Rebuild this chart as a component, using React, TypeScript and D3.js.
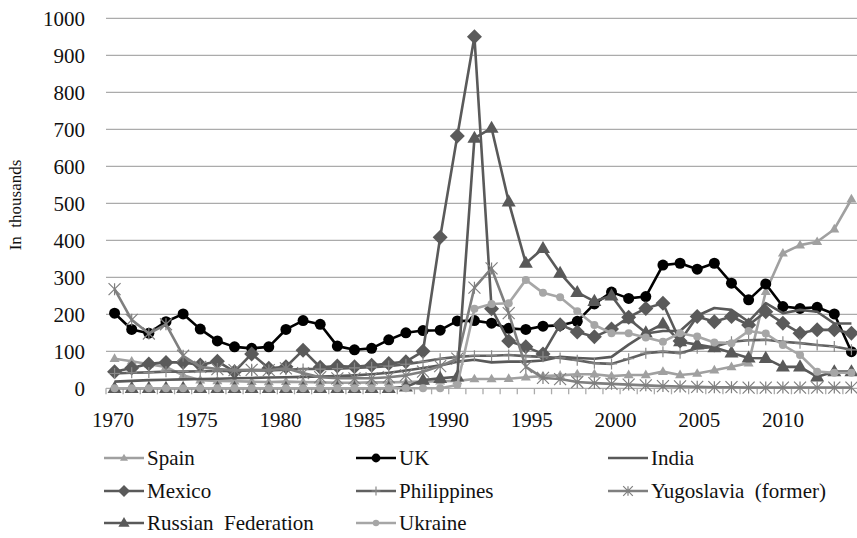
import React, { useRef, useEffect } from 'react';
import * as d3 from 'd3';

// data years (points) and the label axis years
const years = [
  1970, 1971, 1972, 1973, 1974, 1975, 1976, 1977, 1978, 1979,
  1980, 1981, 1982, 1983, 1984, 1985, 1986, 1987, 1988, 1989,
  1990, 1991, 1992, 1993, 1994, 1995, 1996, 1997, 1998, 1999,
  2000, 2001, 2002, 2003, 2004, 2005, 2006, 2007, 2008, 2009,
  2010, 2011, 2012, 2013
];
const labelYears = [...years, 2014];
const tickYears = [1970, 1975, 1980, 1985, 1990, 1995, 2000, 2005, 2010];
const yTicks = [0, 100, 200, 300, 400, 500, 600, 700, 800, 900, 1000];

const spain = [
  80, 73, 65, 58, 35, 22, 20, 19, 18, 17,
  18, 17, 16, 15, 15, 16, 16, 17, 18, 19,
  20, 25, 25, 26, 30, 33, 35, 38, 38, 33,
  36, 36, 45, 36, 40, 49, 58, 68, 261, 365,
  387, 396, 430, 511
];
const uk = [
  203, 159, 149, 180, 201, 160, 128, 112, 108, 112,
  159, 183, 173, 114, 104, 108, 131, 150, 156, 157,
  182, 183, 176, 162, 159, 168, 170, 181, 228, 260,
  243, 248, 333, 338, 322, 338, 284, 239, 282, 221,
  216, 219, 201, 99
];
const india = [
  18, 20, 22, 23, 24, 25, 26, 27, 28, 29,
  30, 31, 32, 33, 35, 38, 42, 48, 55, 62,
  72, 77, 70, 72, 72, 75, 85, 82, 80, 85,
  118, 148, 155, 155, 196, 217, 212, 180, 230, 203,
  212, 207, 175, 175
];
const mexico = [
  45, 55, 66, 70, 70, 63, 73, 45, 93, 54,
  58, 103, 57, 60, 58, 62, 67, 72, 100, 408,
  682, 950, 215, 128, 112, 93, 172, 152, 139, 160,
  192, 216, 230, 128, 194, 180, 194, 171, 207, 176,
  149, 158, 158, 149
];
const philippines = [
  40, 42, 43, 45, 45, 46, 47, 47, 48, 48,
  50, 52, 52, 53, 55, 57, 60, 65, 72, 80,
  85, 88, 88, 90, 87, 85, 82, 76, 68, 66,
  80, 95, 99, 95, 108, 112, 126, 130, 131, 126,
  122, 117, 113, 104
];
const yugoslavia = [
  268, 185, 148, 173, 88, 58, 52, 49, 50, 49,
  54, 41, 30, 27, 27, 27, 30, 35, 45, 60,
  80, 272, 324, 203, 58, 28, 25, 17, 14, 12,
  10, 8, 6, 5, 4, 3, 3, 2, 2, 2,
  2, 2, 2, 2
];
const russia = [
  0, 0, 0, 0, 0, 0, 0, 0, 0, 0,
  0, 0, 0, 0, 0, 0, 0, 4, 22, 27,
  31, 676, 703, 504, 338, 378, 311, 259, 235, 250,
  188, 150, 174, 126, 118, 110, 96, 82, 81, 58,
  58, 31, 45, 45
];
const ukraine = [
  0, 0, 0, 0, 0, 0, 0, 0, 0, 0,
  0, 0, 0, 0, 0, 0, 0, 0, 0, 0,
  9, 215, 228, 230, 293, 258, 246, 208, 171, 149,
  149, 137, 126, 149, 140, 124, 122, 155, 148, 117,
  90, 45, 42, 42
];

type Marker = 'triangle' | 'bigTriangle' | 'circle' | 'smallCircle' | 'diamond' | 'plus' | 'star' | 'none';

const series: { name: string; values: number[]; color: string; markerColor: string; marker: Marker }[] = [
  { name: 'Spain', values: spain, color: '#a0a0a0', markerColor: '#a0a0a0', marker: 'triangle' },
  { name: 'UK', values: uk, color: '#000000', markerColor: '#000000', marker: 'circle' },
  { name: 'India', values: india, color: '#595959', markerColor: '#595959', marker: 'none' },
  { name: 'Mexico', values: mexico, color: '#5a5a5a', markerColor: '#5a5a5a', marker: 'diamond' },
  { name: 'Philippines', values: philippines, color: '#606060', markerColor: '#8a8a8a', marker: 'plus' },
  { name: 'Yugoslavia  (former)', values: yugoslavia, color: '#7f7f7f', markerColor: '#7f7f7f', marker: 'star' },
  { name: 'Russian  Federation', values: russia, color: '#595959', markerColor: '#595959', marker: 'bigTriangle' },
  { name: 'Ukraine', values: ukraine, color: '#a6a6a6', markerColor: '#a6a6a6', marker: 'smallCircle' },
];

const FONT = 'Liberation Serif, DejaVu Serif, serif';

function drawMarker(g: d3.Selection<SVGGElement, unknown, null, undefined>, type: Marker, cx: number, cy: number, color: string, k = 1) {
  if (type === 'none') return;
  if (type === 'circle' || type === 'smallCircle') {
    g.append('circle').attr('cx', cx).attr('cy', cy)
      .attr('r', (type === 'circle' ? 5.5 : 4) * k).attr('fill', color);
  } else if (type === 'triangle' || type === 'bigTriangle') {
    const s = (type === 'triangle' ? 10 : 14) * k;
    const h = s * Math.sqrt(3) / 2;
    g.append('path')
      .attr('d', `M${cx},${cy - h * 0.62}L${cx + s / 2},${cy + h * 0.38}L${cx - s / 2},${cy + h * 0.38}Z`)
      .attr('fill', color);
  } else if (type === 'diamond') {
    const r = 7.5 * k;
    g.append('path')
      .attr('d', `M${cx},${cy - r}L${cx + r},${cy}L${cx},${cy + r}L${cx - r},${cy}Z`)
      .attr('fill', color);
  } else if (type === 'plus') {
    const r = 5.5 * k;
    g.append('path')
      .attr('d', `M${cx - r},${cy}H${cx + r}M${cx},${cy - r}V${cy + r}`)
      .attr('stroke', color).attr('stroke-width', 1.2).attr('fill', 'none');
  } else if (type === 'star') {
    const r = 6 * k;
    g.append('path')
      .attr('d', `M${cx - r},${cy - r}L${cx + r},${cy + r}M${cx - r},${cy + r}L${cx + r},${cy - r}M${cx},${cy - r}V${cy + r}`)
      .attr('stroke', color).attr('stroke-width', 1.2).attr('fill', 'none');
  }
}

const App: React.FC = () => {
  const svgRef = useRef<SVGSVGElement>(null);
  const width = 857;
  const height = 538;

  useEffect(() => {
    if (!svgRef.current) return;
    const svg = d3.select(svgRef.current);
    svg.selectAll('*').remove();

    const plotLeft = 106;
    const plotRight = 860;

    const x = d3.scalePoint<number>().domain(years).range([plotLeft, plotRight]).padding(0.5);
    const step = x.step();
    const xLabel = d3.scalePoint<number>().domain(labelYears).range([plotLeft - 2, plotRight - 2]).padding(0.5);
    const y = d3.scaleLinear().domain([0, 1000]).range([388.3, 18.3]);

    // gridlines
    svg.append('g')
      .selectAll('line')
      .data(yTicks)
      .join('line')
      .attr('x1', plotLeft).attr('x2', plotRight)
      .attr('y1', d => y(d)).attr('y2', d => y(d))
      .attr('stroke', '#ababab')
      .attr('stroke-width', 1.3);

    // category tick marks between points
    svg.append('g')
      .selectAll('line')
      .data(labelYears)
      .join('line')
      .attr('x1', (d, i) => plotLeft + i * step).attr('x2', (d, i) => plotLeft + i * step)
      .attr('y1', y(0)).attr('y2', y(0) + 6)
      .attr('stroke', '#ababab')
      .attr('stroke-width', 1.3);

    // y axis labels
    const yAxis = d3.axisLeft(y).tickValues(yTicks).tickFormat(d3.format('d')).tickSize(0).tickPadding(21);
    const yg = svg.append('g').attr('transform', `translate(${plotLeft},0)`).call(yAxis);
    yg.attr('font-family', FONT).attr('font-size', 21);
    yg.select('.domain').remove();
    yg.selectAll('.tick text').attr('fill', '#111');

    // x axis labels
    const xAxis = d3.axisBottom(xLabel).tickValues(tickYears).tickFormat(d3.format('d')).tickSize(0).tickPadding(24);
    const xg = svg.append('g').attr('transform', `translate(0,${y(0)})`).call(xAxis);
    xg.attr('font-family', FONT).attr('font-size', 21);
    xg.select('.domain').remove();
    xg.selectAll('.tick text').attr('fill', '#111');

    // y title
    svg.append('text')
      .attr('transform', `translate(21,205) rotate(-90)`)
      .attr('text-anchor', 'middle')
      .attr('font-family', FONT).attr('font-size', 17)
      .style('white-space', 'pre')
      .attr('fill', '#111')
      .text('In  thousands');

    // series
    const line = d3.line<number>()
      .x((d, i) => x(years[i]) as number)
      .y(d => y(d));

    series.forEach(s => {
      const g = svg.append('g');
      g.append('path')
        .datum(s.values)
        .attr('fill', 'none')
        .attr('stroke', s.color)
        .attr('stroke-width', 2.6)
        .attr('stroke-linejoin', 'round')
        .attr('d', line);
      s.values.forEach((v, i) => drawMarker(g, s.marker, x(years[i]) as number, y(v), s.markerColor));
    });

    // legend
    const colX = [104, 356, 608];
    const rowY = [458, 491, 523];
    series.forEach((s, i) => {
      const lx = colX[i % 3];
      const ly = rowY[Math.floor(i / 3)];
      const g = svg.append('g');
      g.append('line')
        .attr('x1', lx).attr('x2', lx + 40)
        .attr('y1', ly).attr('y2', ly)
        .attr('stroke', s.color).attr('stroke-width', 2.6);
      drawMarker(g, s.marker, lx + 20, ly, s.markerColor, 0.8);
      g.append('text')
        .attr('x', lx + 43).attr('y', ly + 7)
        .attr('font-family', FONT).attr('font-size', 21)
        .style('white-space', 'pre')
        .attr('fill', '#111')
        .text(s.name);
    });
  }, []);

  return (
    <div style={{ position: 'absolute', left: 0, top: 0, width, height, overflow: 'hidden', background: '#fff' }}>
      <svg ref={svgRef} width={width} height={height} style={{ display: 'block', background: '#ffffff' }} />
    </div>
  );
};

export default App;
